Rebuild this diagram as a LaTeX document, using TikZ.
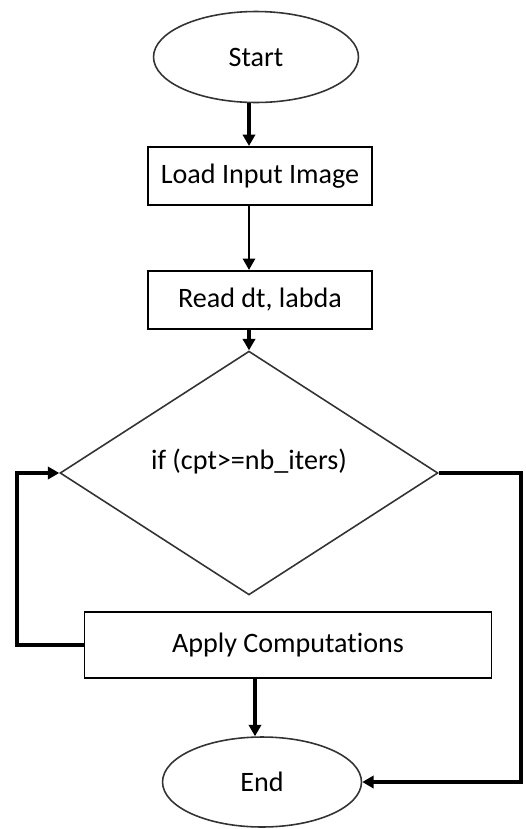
\documentclass[tikz,border=0pt]{standalone}
\usepackage{fontspec}
\setmainfont{Carlito}[Ligatures=NoCommon]
\usetikzlibrary{arrows.meta, positioning, shapes.geometric, calc}
\tikzset{
    termbox/.style={
        ellipse,
        draw=black!80,
        line width=0.9pt,
        inner sep=0pt,
        minimum width=4.1cm,
        minimum height=1.82cm,
        font=\fontsize{16}{19}\selectfont
    },
    procbox/.style={
        rectangle,
        draw=black,
        line width=0.9pt,
        inner sep=0pt,
        align=center,
        minimum width=4.48cm,
        minimum height=1.17cm,
        font=\fontsize{16}{19}\selectfont
    },
    decision/.style={
        diamond,
        draw=black!80,
        line width=0.9pt,
        inner sep=0pt,
        minimum width=7.56cm,
        minimum height=4.14cm,
        text height=0.4cm,
        text depth=0.56cm,
        font=\fontsize{16}{19}\selectfont
    },
    flowarrow/.style={-{Triangle[length=6.5pt,width=7pt]}, line width=2.3pt, draw=black},
    thinarrow/.style={-{Triangle[length=6.5pt,width=7pt]}, line width=1.2pt, draw=black}
}
\begin{document}
\begin{tikzpicture}[x=0.02cm,y=-0.02cm]
    \useasboundingbox (0,0) rectangle (525,829);

    \node[termbox] (start) at (256,57) {Start};
    \node[procbox] (load) at (260,176) {Load Input Image};
    \node[procbox] (read) at (260,300) {Read dt, labda};
    \node[decision] (check) at (249,473) {if (cpt>=nb\_iters)};
    \node[procbox, minimum width=8.14cm, minimum height=1.32cm] (apply) at (288,645) {Apply Computations};
    \node[termbox, minimum width=3.98cm, minimum height=1.8cm] (end) at (262,782) {End};

    \draw[flowarrow] (check.north |- start.south) -- (check.north |- load.north);
    \draw[thinarrow] (check.north |- load.south) -- (check.north |- read.north);
    \draw[flowarrow] (check.north |- read.south) -- (check.north);
    \draw[flowarrow] (apply.west) -- ++(-67,0) |- (check.west);
    \draw[flowarrow] (check.east) -- ++(82,0) |- (end.east);
    \draw[flowarrow] ($(end.north |- apply.south)+(-7,0)$) -- ($(end.north)+(-7,0)$);
\end{tikzpicture}
\end{document}
